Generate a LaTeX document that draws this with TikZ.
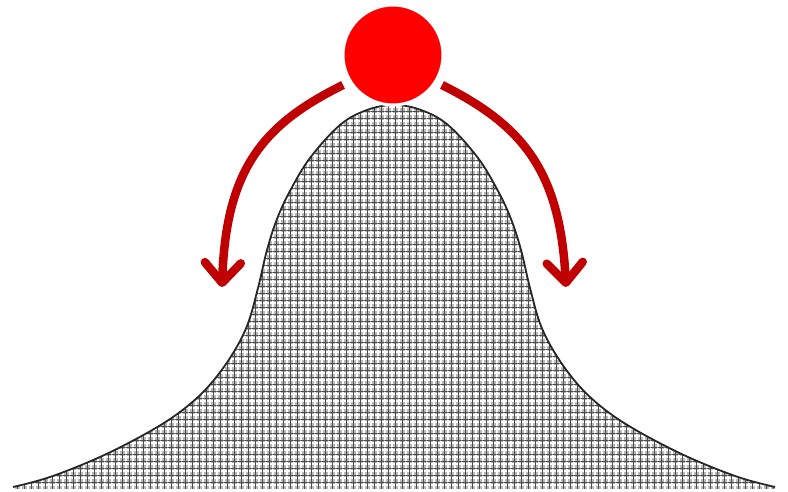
\documentclass[tikz,border=0pt]{standalone}
\usetikzlibrary{arrows.meta,patterns.meta}
\definecolor{arrowred}{HTML}{C00000}
\tikzset{
  hill/.style={fill=gray!55},
  hillwhite/.style={pattern={Hatch[angle=0, distance=7pt, line width=1.3pt]}, pattern color=white},
  hilldark/.style={pattern={Hatch[angle=0, distance=7pt, line width=0.9pt, xshift=3pt, yshift=3pt]}, pattern color=black!70},
  hilledge/.style={draw=black!85, line width=1.8pt},
  ball/.style={circle, fill=red, draw=white, line width=3pt, minimum size=100pt, inner sep=0pt},
  movearrow/.style={draw=arrowred, line width=8.5pt, -{Straight Barb[length=20pt, width=36pt, line cap=round, round]}}
}
\begin{document}
\begin{tikzpicture}[x=1pt,y=1pt]
\useasboundingbox (0,0) rectangle (788,492);
\path[hill, postaction={hillwhite}, postaction={hilldark}] (13,3) -- plot[smooth, tension=0.6] coordinates {(13,5) (50,15) (100,35) (147,59) (180,80) (207,104) (230,134) (247,166) (258,204) (267,242) (277,273) (290,301) (310,334) (340,367) (367,382) (394,387) (421,382) (448,367) (478,334) (498,301) (511,273) (521,242) (530,204) (541,166) (558,134) (581,104) (608,80) (641,59) (688,35) (738,15) (775,5)} -- (775,3) -- cycle;
\draw[hilledge] plot[smooth, tension=0.6] coordinates {(13,5) (50,15) (100,35) (147,59) (180,80) (207,104) (230,134) (247,166) (258,204) (267,242) (277,273) (290,301) (310,334) (340,367) (367,382) (394,387) (421,382) (448,367) (478,334) (498,301) (511,273) (521,242) (530,204) (541,166) (558,134) (581,104) (608,80) (641,59) (688,35) (738,15) (775,5)};
\node[ball] (b) at (393,437) {};
\coordinate (ls) at (343,407);
\coordinate (le) at (222,205);
\coordinate (rs) at (442,407);
\coordinate (re) at (566,205);
\draw[movearrow] (ls) .. controls (262,367) and (226,322) .. (le);
\draw[movearrow] (rs) .. controls (522,367) and (560,322) .. (re);
\end{tikzpicture}
\end{document}
